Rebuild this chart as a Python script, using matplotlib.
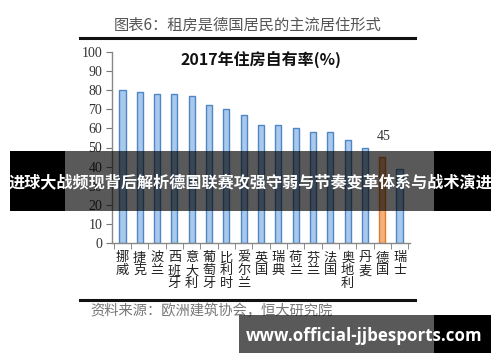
import matplotlib
matplotlib.use("Agg")
import matplotlib.pyplot as plt
from matplotlib.patches import Rectangle
from matplotlib.lines import Line2D
from matplotlib.ticker import FixedLocator

plt.rcParams['font.family'] = ['Noto Sans CJK SC', 'DejaVu Sans']

# 2017 home ownership rate (%)
countries = ['挪威', '捷克', '波兰', '西班牙', '意大利', '葡萄牙', '比利时', '爱尔兰',
             '英国', '瑞典', '荷兰', '芬兰', '法国', '奥地利', '丹麦', '德国', '瑞士']
rates = [80, 79, 78, 78, 77, 72, 70, 67, 62, 62, 60, 58, 58, 54, 50, 45, 39]
highlight = '德国'
y_ticks = [0, 10, 20, 30, 40, 50, 60, 70, 80, 90, 100]

W, H = 500, 362
fig = plt.figure(figsize=(W / 100, H / 100), dpi=100)
fig.patch.set_facecolor('white')


def fx(px):
    return px / W


def fy(py):
    return 1 - py / H


ax = fig.add_axes([fx(112), fy(243), fx(410) - fx(112), fy(52) - fy(243)])
x = list(range(len(countries)))
face = ['#f4b07a' if c == highlight else '#a8c8ec' for c in countries]
edge = ['#e07b2e' if c == highlight else '#4f86c6' for c in countries]
ax.bar(x, rates, width=0.36, color=face, edgecolor=edge, linewidth=1.0)

ax.set_xlim(-0.6, len(countries) - 0.4)
ax.set_ylim(0, 100)
ax.set_yticks(y_ticks)
ax.set_yticklabels([str(v) for v in y_ticks], family='Liberation Serif',
                   fontsize=10, color='#333333')
ax.set_xticks(x)
ax.set_xticklabels(['\n'.join(c) for c in countries], fontsize=9.5,
                   color='#222222', linespacing=1.0, va='top')
ax.xaxis.set_minor_locator(FixedLocator([i - 0.5 for i in range(len(countries) + 1)]))
ax.tick_params(axis='x', which='major', length=0, pad=6)
ax.tick_params(axis='x', which='minor', length=4, color='#777777', direction='out')
ax.tick_params(axis='y', length=4, color='#777777', direction='out', pad=3)
for s in ['top', 'right']:
    ax.spines[s].set_visible(False)
for s in ['left', 'bottom']:
    ax.spines[s].set_color('#888888')
    ax.spines[s].set_linewidth(1.0)

hi = countries.index(highlight)
ax.annotate(str(rates[hi]), (hi, rates[hi]), xytext=(1, 10), textcoords='offset points',
            ha='center', va='bottom', family='Liberation Serif', fontsize=10,
            color='#333333')

ax.text(0.5, 0.955, '2017年住房自有率(%)', transform=ax.transAxes, ha='center',
        va='center', fontsize=11.5, fontweight='bold', color='#111111')

# header and footer
fig.text(fx(248), fy(25), '图表6：租房是德国居民的主流居住形式', ha='center', va='center',
         fontsize=11, color='#555555')
fig.add_artist(Line2D([fx(80), fx(415)], [fy(38), fy(38)], color='#111111', lw=2.2))
fig.add_artist(Line2D([fx(80), fx(415)], [fy(300), fy(300)], color='#111111', lw=2.2))
fig.text(fx(90), fy(311), '资料来源：欧洲建筑协会，恒大研究院', ha='left', va='center',
         fontsize=10.3, color='#777777', style='italic')

# overlay banner
fig.add_artist(Rectangle((fx(10), fy(211)), fx(55), fy(151) - fy(211),
                         color='black', lw=0, zorder=10))
fig.add_artist(Rectangle((fx(434), fy(211)), fx(57), fy(151) - fy(211),
                         color='black', lw=0, zorder=10))
fig.add_artist(Rectangle((fx(65), fy(211)), fx(369), fy(151) - fy(211),
                         color='black', alpha=0.65, lw=0, zorder=10))
fig.text(fx(250), fy(182), '进球大战频现背后解析德国联赛攻强守弱与节奏变革体系与战术演进',
         ha='center', va='center', fontsize=11.6, fontweight='bold', color='white',
         zorder=11)

# watermark box
fig.add_artist(Rectangle((fx(239), fy(353)), fx(195), fy(315) - fy(353),
                         color='black', alpha=0.65, lw=0, zorder=10))
fig.add_artist(Rectangle((fx(434), fy(353)), fx(57), fy(315) - fy(353),
                         color='black', lw=0, zorder=10))
fig.text(fx(364), fy(336), 'www.official-jjbesports.com', ha='center', va='center',
         fontsize=12.2, fontweight='bold', color='white', family='Open Sans', zorder=11)

fig.savefig('out.png', dpi=100)
